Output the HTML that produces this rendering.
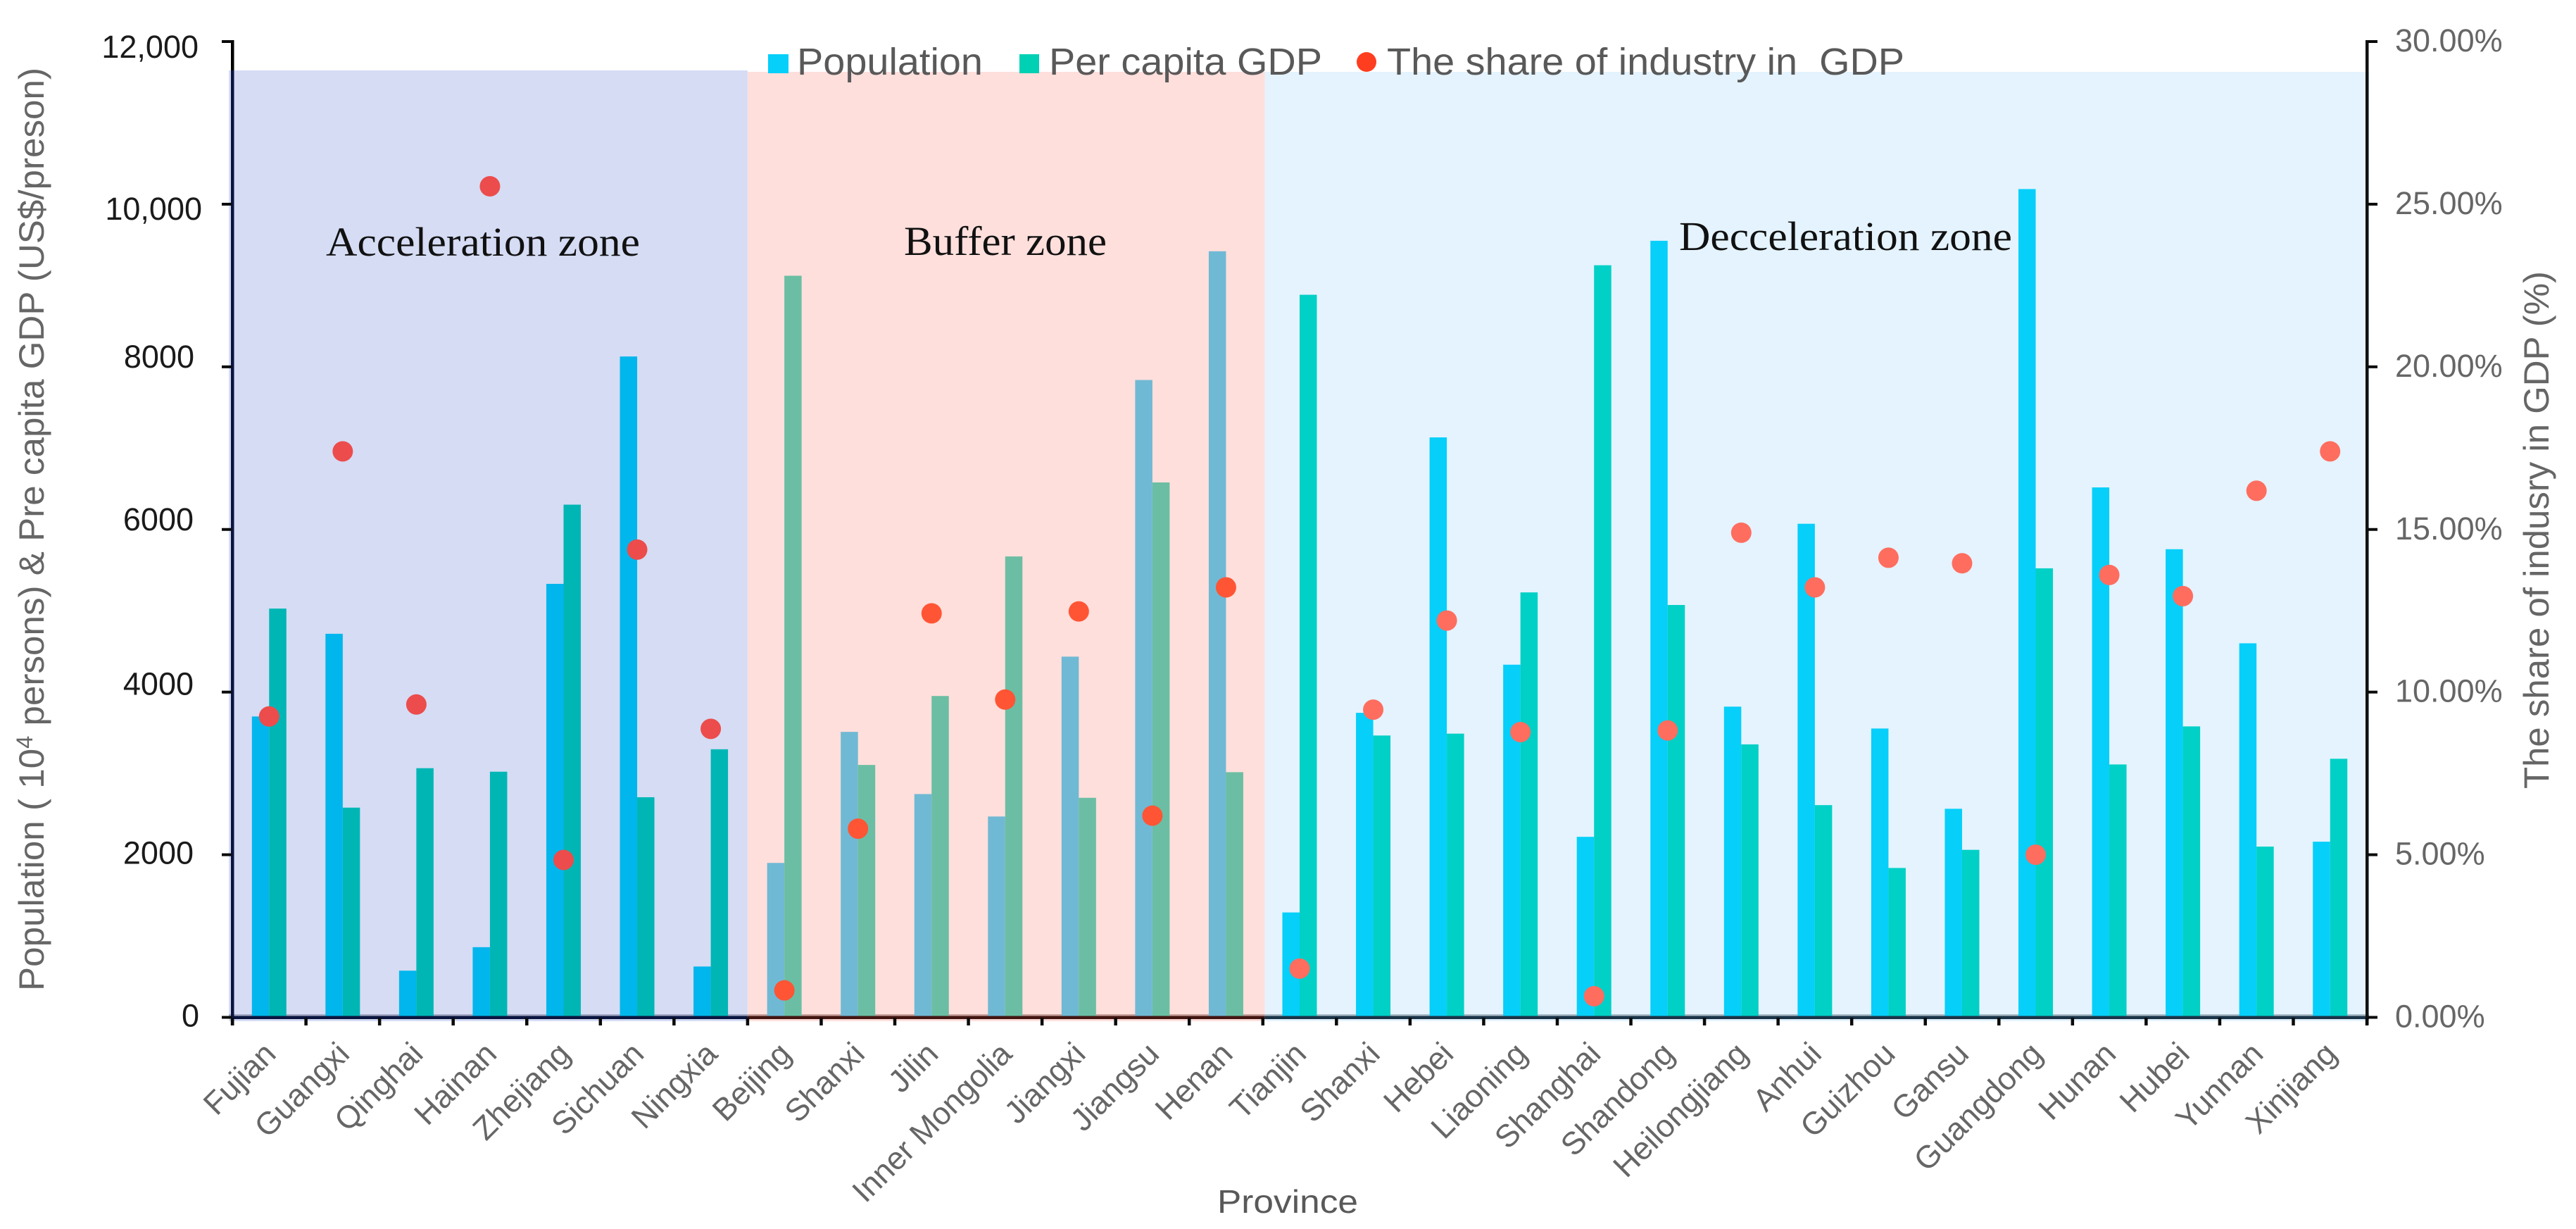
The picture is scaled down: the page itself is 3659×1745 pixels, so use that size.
<!DOCTYPE html>
<html lang="en">
<head>
<meta charset="utf-8">
<title>Population, per capita GDP and industry share by province</title>
<style>
html,body{margin:0;padding:0;background:#fff;width:3659px;height:1745px;overflow:hidden}
svg{display:block}
text{font-family:"Liberation Sans",sans-serif}
.serif{font-family:"Liberation Serif",serif;fill:#111}
</style>
</head>
<body>
<svg id="chart" xmlns="http://www.w3.org/2000/svg" width="3659" height="1745" viewBox="0 0 3659 1745">
  <g id="zones"></g>
  <g id="bars"></g>
  <g id="axes"></g>
  <g id="dots"></g>
  <g id="labels"></g>

  <text class="serif" x="463" y="363" font-size="58" textLength="446" lengthAdjust="spacingAndGlyphs">Acceleration zone</text>
  <text class="serif" x="1284" y="362" font-size="58" textLength="288" lengthAdjust="spacingAndGlyphs">Buffer zone</text>
  <text class="serif" x="2385" y="355" font-size="58" textLength="473" lengthAdjust="spacingAndGlyphs">Decceleration zone</text>

  <g>
    <rect x="1091" y="77" width="29" height="27" fill="#06cffa"/>
    <text x="1132" y="106" font-size="54" fill="#595959" textLength="264" lengthAdjust="spacingAndGlyphs">Population</text>
    <rect x="1448" y="77" width="28" height="27" fill="#00d0b4"/>
    <text x="1490" y="106" font-size="54" fill="#595959" textLength="388" lengthAdjust="spacingAndGlyphs">Per capita GDP</text>
    <circle cx="1941" cy="88" r="14" fill="#ff3d1f"/>
    <text x="1970" y="106" font-size="54" fill="#595959" textLength="735" lengthAdjust="spacingAndGlyphs" xml:space="preserve">The share of industry in  GDP</text>
  </g>

  <text transform="translate(62,1407) rotate(-90)" font-size="50" fill="#666" textLength="1311" lengthAdjust="spacingAndGlyphs">Population ( 10<tspan font-size="32" dy="-16">4</tspan><tspan dy="16"> persons) &amp; Pre capita GDP (US$/preson)</tspan></text>
  <text transform="translate(3620,1120) rotate(-90)" font-size="50" fill="#666" textLength="735" lengthAdjust="spacingAndGlyphs">The share of indusry in GDP (%)</text>
  <text x="1729" y="1722" font-size="46" fill="#595959" textLength="200" lengthAdjust="spacingAndGlyphs">Province</text>
</svg>

<script>
const provinces = ["Fujian","Guangxi","Qinghai","Hainan","Zhejiang","Sichuan","Ningxia","Beijing","Shanxi","Jilin","Inner Mongolia","Jiangxi","Jiangsu","Henan","Tianjin","Shanxi","Hebei","Liaoning","Shanghai","Shandong","Heilongjiang","Anhui","Guizhou","Gansu","Guangdong","Hunan","Hubei","Yunnan","Xinjiang"];
const population = [3700,4717,574,863,5331,8127,625,1899,3511,2746,2470,4436,7838,9421,1290,3745,7132,4337,2220,9550,3821,6070,3552,2565,10186,6517,5757,4600,2160];
const perCapitaGdp = [5027,2579,3064,3021,6305,2707,3297,9120,3104,3952,5668,2700,6578,3015,8886,3466,3489,5226,9249,5071,3357,2610,1837,2060,5522,3110,3578,2100,3180];
const industryShare = [9.25,17.4,9.62,25.55,4.84,14.38,8.87,0.83,5.8,12.42,9.77,12.48,6.2,13.22,1.5,9.46,12.2,8.77,0.65,8.82,14.9,13.22,14.13,13.96,5.0,13.6,12.95,16.19,17.4];
const zoneNames = ["acceleration","buffer","decceleration"];
const zoneCounts = [7,7,15];
const leftTickValues = [0,2000,4000,6000,8000,10000,12000];
const leftTickLabels = ["0","2000","4000","6000","8000","10,000","12,000"];
const rightTickValues = [0,5,10,15,20,25,30];
const rightTickLabels = ["0.00%","5.00%","10.00%","15.00%","20.00%","25.00%","30.00%"];

const NS = "http://www.w3.org/2000/svg";
const plot = {left:330, right:3362, zero:1444.5, top:59};
const barWidth = 24.5;
const zoneStyle = [
  {bg:"#d5dcf4", pop:"#00b6ec", gdp:"#00b6b5", dot:"#ec4c4c", axis:"#0a1640", band:"#a3a8c4"},
  {bg:"#fedfdc", pop:"#70b9d4", gdp:"#6bbea3", dot:"#ff5535", axis:"#431612", band:"#c9a09c"},
  {bg:"#e4f3fe", pop:"#06cffa", gdp:"#00d0c6", dot:"#ff6d5f", axis:"#1a3448", band:"#a9bcc8"}
];
/* manual label placement of the source figure (offsets, not data) */
const leftLabelLayout = [[283,-3],[275,-3],[275,-12],[275,-15],[276,-15],[287,6],[282,7]];

const step = (plot.right - plot.left) / provinces.length;
function xEdge(i){ return plot.left + step * i; }
function xCenter(i){ return xEdge(i) + step / 2; }
function yLeft(v){ return plot.zero - v * (plot.zero - plot.top) / 12000; }
function yRight(p){ return plot.zero - p * (plot.zero - plot.top) / 30; }
function make(tag, attrs, parent){
  const el = document.createElementNS(NS, tag);
  for (const k in attrs) el.setAttribute(k, attrs[k]);
  parent.appendChild(el);
  return el;
}
function zoneOf(i){
  let acc = 0;
  for (let z = 0; z < zoneCounts.length; z++){
    acc += zoneCounts[z];
    if (i < acc) return z;
  }
  return zoneCounts.length - 1;
}

const gZones = document.getElementById("zones");
const gBars = document.getElementById("bars");
const gAxes = document.getElementById("axes");
const gDots = document.getElementById("dots");
const gLabels = document.getElementById("labels");

/* zone backgrounds + x axis segments */
let startIdx = 0;
zoneNames.forEach(function(name, z){
  const endIdx = startIdx + zoneCounts[z];
  const x0 = z === 0 ? plot.left - 5 : xEdge(startIdx) + (z === 2 ? 3 : 0);
  const x1 = z === 2 ? plot.right + 3 : xEdge(endIdx) + (z === 1 ? 3 : 0);
  const top = z === 0 ? 100 : 102;
  const bg = make("rect", {x:x0, y:top, width:x1 - x0, height:1450 - top, fill:zoneStyle[z].bg}, gZones);
  
  
  const band = make("rect", {x:x0, y:1440, width:x1 - x0, height:3, fill:zoneStyle[z].band}, gZones);
  
  
  const seg = make("rect", {x:x0 + (z === 0 ? 5 : 0), y:1442.5, width:x1 - x0 - (z === 0 ? 5 : 0), height:4.5, fill:zoneStyle[z].axis}, gAxes);
  
  
  startIdx = endIdx;
});

/* bars */
provinces.forEach(function(p, i){
  const st = zoneStyle[zoneOf(i)];
  const c = xCenter(i);
  const py = yLeft(population[i]);
  const gy = yLeft(perCapitaGdp[i]);
  const b1 = make("rect", {x:c - barWidth, y:py, width:barWidth, height:plot.zero - py, fill:st.pop}, gBars);
  
  
  const b2 = make("rect", {x:c, y:gy, width:barWidth, height:plot.zero - gy, fill:st.gdp}, gBars);
  
  
  const d = make("circle", {cx:c, cy:yRight(industryShare[i]), r:14.5, fill:st.dot}, gDots);
  
  
  const lab = make("text", {transform:"translate(" + (c + 12) + ",1499) rotate(-45)", "text-anchor":"end", "font-size":45, fill:"#666"}, gLabels);
  lab.textContent = p;
  
  
});

/* axis lines */
const leftTop = make("rect", {x:328, y:57, width:4.5, height:44, fill:"#000"}, gAxes);


const leftLine = make("rect", {x:328, y:100, width:4.5, height:1356, fill:"#0a1640"}, gAxes);


const rightLine = make("rect", {x:3360, y:57, width:4.5, height:1398, fill:"#111"}, gAxes);



/* x ticks */
for (let i = 0; i <= provinces.length; i++){
  const t = make("rect", {x:xEdge(i) - 2.2, y:1445, width:4.5, height:11, fill:"#0a0a0a"}, gAxes);
  
  
}

/* left ticks and labels */
leftTickValues.forEach(function(v, i){
  const y = yLeft(v);
  const t = make("rect", {x:315, y:y - 2, width:14, height:4, fill:"#0a0a0a"}, gAxes);
  
  
  const lab = make("text", {x:leftLabelLayout[i][0], y:y + leftLabelLayout[i][1] + 16, "text-anchor":"end", "font-size":45, fill:"#1a1a1a"}, gLabels);
  lab.textContent = leftTickLabels[i];
  
  
});

/* right ticks and labels */
rightTickValues.forEach(function(v, i){
  const y = yRight(v);
  const t = make("rect", {x:3363, y:y - 2, width:14, height:4, fill:"#0a0a0a"}, gAxes);
  
  
  const lab = make("text", {x:3402, y:y - 2 + 16, "font-size":45, fill:"#666"}, gLabels);
  lab.textContent = rightTickLabels[i];
  
  
});
</script>
</body>
</html>
